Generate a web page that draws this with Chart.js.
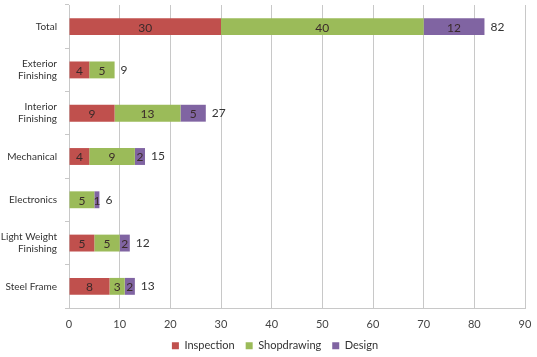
<!DOCTYPE html>
<html><head><meta charset="utf-8">
<script src="https://cdn.jsdelivr.net/npm/chart.js@4"></script>
<style>html,body{margin:0;padding:0;background:#fff}#wrap{width:537px;height:357px}</style>
</head><body><div id="wrap"><canvas id="c" width="537" height="357"></canvas></div>
<script>
const categories = ['Total', ['Exterior','Finishing'], ['Interior','Finishing'], 'Mechanical', 'Electronics', ['Light Weight','Finishing'], 'Steel Frame'];
const inspection = [30, 4, 9, 4, 0, 5, 8];
const shopdrawing = [40, 5, 13, 9, 5, 5, 3];
const design = [12, 0, 5, 2, 1, 2, 2];
const xTicks = [0, 10, 20, 30, 40, 50, 60, 70, 80, 90];

const FONT = 'Lato, "Open Sans", sans-serif';

const labelPlugin = {
  id: 'labels',
  afterLayout(chart) {
    const L = chart.legend;
    if (L) { L.left += 12.5; L.right += 12.5; }
  },
  afterDatasetsDraw(chart) {
    const ctx = chart.ctx;
    ctx.save();
    ctx.font = '12px ' + FONT;
    ctx.textBaseline = 'middle';
    ctx.fillStyle = '#3a2a2a';
    ctx.textAlign = 'center';
    chart.data.datasets.forEach((ds, di) => {
      const meta = chart.getDatasetMeta(di);
      meta.data.forEach((bar, i) => {
        const v = ds.data[i];
        if (!v) return;
        const p = bar.getProps(['x','y','base'], true);
        ctx.fillText(String(v), (p.x + p.base) / 2, p.y + 1);
      });
    });
    const last = chart.getDatasetMeta(chart.data.datasets.length - 1);
    ctx.textAlign = 'left';
    ctx.fillStyle = '#333';
    last.data.forEach((bar, i) => {
      const total = inspection[i] + shopdrawing[i] + design[i];
      const x = chart.scales.x.getPixelForValue(total);
      ctx.fillText(String(total), x + 6, bar.y);
    });
    ctx.restore();
  }
};

new Chart(document.getElementById('c'), {
  type: 'bar',
  data: {
    labels: categories,
    datasets: [
      { label: 'Inspection', data: inspection, backgroundColor: '#C0504D' },
      { label: 'Shopdrawing', data: shopdrawing, backgroundColor: '#9BBB59' },
      { label: 'Design', data: design, backgroundColor: '#8064A2' }
    ]
  },
  options: {
    indexAxis: 'y',
    responsive: false,
    animation: false,
    devicePixelRatio: 1,
    layout: { padding: { top: 5, right: 12, bottom: -4.2, left: 0 } },
    datasets: { bar: { categoryPercentage: 0.39, barPercentage: 1.0 } },
    scales: {
      x: {
        stacked: true, min: 0, max: 90,
        afterBuildTicks(s) { s.ticks = xTicks.map(v => ({ value: v })); },
        grid: { color: '#C8C8C8', drawTicks: false },
        border: { color: '#C8C8C8' },
        ticks: { color: '#444', font: { family: FONT, size: 11 }, padding: 10 },
        afterFit(s) { s.height = 21.2; s.paddingLeft = 0; s.paddingRight = 0; }
      },
      y: {
        stacked: true,
        grid: { display: true, drawOnChartArea: false, offset: true, tickLength: 4, color: '#C8C8C8' },
        border: { color: '#C8C8C8' },
        ticks: { color: '#333', font: { family: FONT, size: 10 }, padding: 8 },
        afterFit(s) { s.width = 69; s.paddingTop = 0; s.paddingBottom = 0; }
      }
    },
    plugins: {
      legend: {
        position: 'bottom',
        labels: { boxWidth: 7, boxHeight: 7, color: '#333', font: { family: FONT, size: 11 }, padding: 11 }
      },
      tooltip: { enabled: false }
    }
  },
  plugins: [labelPlugin]
});
</script></body></html>
